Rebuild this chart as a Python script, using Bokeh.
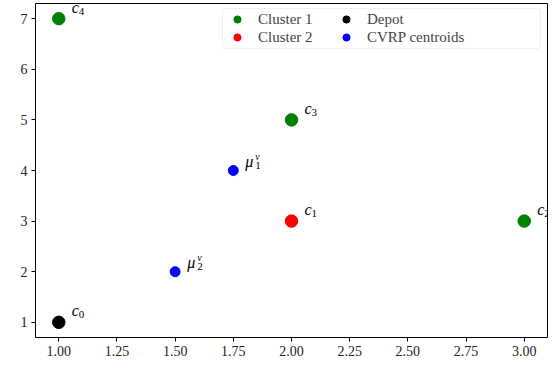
from bokeh.plotting import figure
from bokeh.models import (Legend, LegendItem, FixedTicker, NumeralTickFormatter, Range1d,
                          LabelSet, ColumnDataSource, BoxAnnotation)
from bokeh.core.properties import value
from bokeh.embed import file_html
from bokeh.resources import INLINE

# Data
c1_x = [3.0, 2.0, 1.0]
c1_y = [3.0, 5.0, 7.0]
c1_sub = ["2", "3", "4"]
c2_x = [2.0]
c2_y = [3.0]
c2_sub = ["1"]
depot_x = [1.0]
depot_y = [1.0]
depot_sub = ["0"]
cent_x = [1.75, 1.5]
cent_y = [4.0, 2.0]
cent_sub = ["1", "2"]
x_ticks = [1.0, 1.25, 1.5, 1.75, 2.0, 2.25, 2.5, 2.75, 3.0]
y_ticks = [1, 2, 3, 4, 5, 6, 7]

FONT = "'Liberation Serif', 'Times New Roman', serif"

p = figure(width=552, height=368, output_backend="svg", toolbar_location=None,
           x_range=Range1d(0.9, 3.1), y_range=Range1d(0.7, 7.3),
           min_border_left=35, min_border_right=5, min_border_top=3, min_border_bottom=31)
p.xgrid.visible = False
p.ygrid.visible = False
p.outline_line_color = "black"
p.outline_line_alpha = 1.0
p.outline_line_width = 1

for ax in (p.xaxis[0], p.yaxis[0]):
    ax.major_label_text_font = FONT
    ax.major_label_text_font_size = "14px"
    ax.major_label_text_color = "#222222"
    ax.minor_tick_line_color = None
    ax.major_tick_out = 4
    ax.major_tick_in = 0
    ax.axis_line_color = None
    ax.major_tick_line_color = "black"
    ax.major_label_standoff = 4
p.xaxis[0].ticker = FixedTicker(ticks=x_ticks)
p.xaxis[0].formatter = NumeralTickFormatter(format="0.00")
p.yaxis[0].ticker = FixedTicker(ticks=y_ticks)

r1 = p.scatter(c1_x, c1_y, size=12.5, color="green")
r2 = p.scatter(c2_x, c2_y, size=12.5, color="red")
r3 = p.scatter(depot_x, depot_y, size=12.5, color="black")
r4 = p.scatter(cent_x, cent_y, size=10, color="blue")

# point labels (annotations, so they are not clipped at the frame edge)
lab_src = ColumnDataSource(dict(
    x=c1_x + c2_x + depot_x,
    y=c1_y + c2_y + depot_y,
    sub=c1_sub + c2_sub + depot_sub,
    c=["c"] * 5,
))
p.add_layout(LabelSet(x="x", y="y", text="c", source=lab_src, x_offset=13, y_offset=6,
                      text_font=value(FONT), text_font_style="italic", text_font_size="16px",
                      text_baseline="alphabetic", text_align="left", text_color="black"))
p.add_layout(LabelSet(x="x", y="y", text="sub", source=lab_src, x_offset=20, y_offset=4,
                      text_font=value(FONT), text_font_size="11px",
                      text_baseline="alphabetic", text_align="left", text_color="black"))

cen_src = ColumnDataSource(dict(x=cent_x, y=cent_y, sub=cent_sub,
                                mu=["μ"] * len(cent_x), v=["v"] * len(cent_x)))
p.add_layout(LabelSet(x="x", y="y", text="mu", source=cen_src, x_offset=12, y_offset=4,
                      text_font=value(FONT), text_font_style="italic", text_font_size="16px",
                      text_baseline="alphabetic", text_align="left", text_color="black"))
p.add_layout(LabelSet(x="x", y="y", text="sub", source=cen_src, x_offset=22, y_offset=2,
                      text_font=value(FONT), text_font_size="11px",
                      text_baseline="alphabetic", text_align="left", text_color="black"))
p.add_layout(LabelSet(x="x", y="y", text="v", source=cen_src, x_offset=22, y_offset=11,
                      text_font=value(FONT), text_font_style="italic", text_font_size="10px",
                      text_baseline="alphabetic", text_align="left", text_color="black"))

# legend frame (screen units relative to the plot frame's bottom-left corner)
box = BoxAnnotation(left=187, right=505, top=329, bottom=289,
                    left_units="screen", right_units="screen",
                    top_units="screen", bottom_units="screen",
                    fill_color="white", fill_alpha=0.8,
                    line_color="#cccccc", line_width=1, border_radius=3)
p.add_layout(box)

legend = Legend(items=[
    LegendItem(label="Cluster 1", renderers=[r1]),
    LegendItem(label="Cluster 2", renderers=[r2]),
    LegendItem(label="Depot", renderers=[r3]),
    LegendItem(label="CVRP centroids", renderers=[r4]),
], location=(192, 291), ncols=2)
legend.label_text_font = FONT
legend.label_text_font_size = "15px"
legend.label_height = 18
legend.label_width = 78
legend.glyph_height = 18
legend.glyph_width = 20
legend.spacing = 0
legend.padding = 0
legend.margin = 0
legend.label_standoff = 11
legend.border_line_color = None
legend.background_fill_alpha = 0
p.add_layout(legend)

open("out.html", "w").write(file_html(p, INLINE))
